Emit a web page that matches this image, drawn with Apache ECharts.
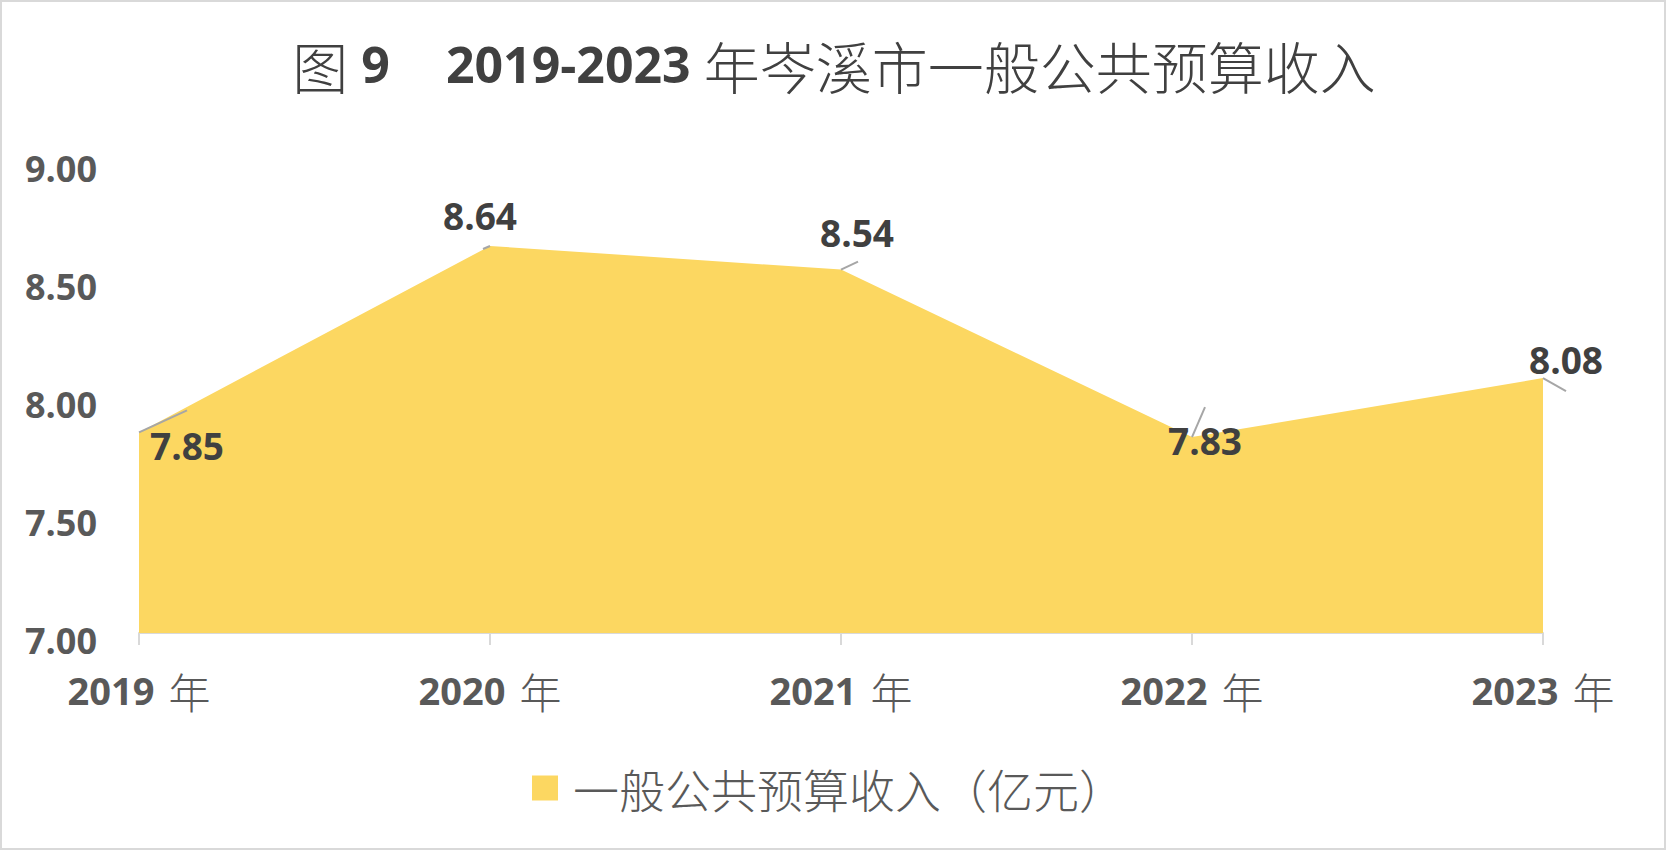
<!DOCTYPE html>
<html>
<head>
<meta charset="utf-8">
<script src="https://cdn.jsdelivr.net/npm/echarts@6/dist/echarts.min.js"></script>
<style>
html,body{margin:0;padding:0;background:#fff;}
#chart{width:1668px;height:852px;}
</style>
</head>
<body>
<div id="chart"></div>
<script>
// ---- data ----
const categories = ['2019 年', '2020 年', '2021 年', '2022 年', '2023 年'];
const revenue = [7.85, 8.64, 8.54, 7.83, 8.08];
const yTicks = [7.00, 7.50, 8.00, 8.50, 9.00];
const seriesName = '一般公共预算收入（亿元）';

// ---- label / leader styling (pixel offsets from each point) ----
const labelOffsets = [[48, 13], [-10, -30], [16, -37], [13, 3], [23, -19]];
const leaderVectors = [[48, -22], [-7, 3], [17, -8], [13, -30], [23, 13]];

const AREA = '#FCD761';
const NUM_FONT = '"Open Sans", "Liberation Sans", sans-serif';
const CJK_FONT = '"Noto Sans CJK SC", sans-serif';

const chart = echarts.init(document.getElementById('chart'), null, {renderer: 'svg'});

const option = {
  backgroundColor: '#ffffff',
  animation: false,
  title: {
    left: 'center',
    top: 34,
    padding: 0,
    text: '{c|图}{n| 9}{c|　}{n|2019-2023 }{c|年岑溪市一般公共预算收入}',
    textStyle: {
      rich: {
        c: {fontFamily: CJK_FONT, fontSize: 56, fontWeight: 300, color: '#404040', lineHeight: 60},
        n: {fontFamily: NUM_FONT, fontSize: 50, fontWeight: 'bold', color: '#404040', lineHeight: 60}
      }
    }
  },
  legend: {
    data: [seriesName],
    left: 527,
    top: 760,
    icon: 'rect',
    itemWidth: 26,
    itemHeight: 25,
    formatter: '{a|{name}}',
    textStyle: {
      rich: {
        a: {fontFamily: CJK_FONT, fontSize: 46, fontWeight: 300, color: '#595959', padding: [0, 0, 0, 10], lineHeight: 50}
      }
    }
  },
  grid: {left: 139, right: 125, top: 161, bottom: 219, containLabel: false},
  xAxis: {
    type: 'category',
    data: categories,
    boundaryGap: false,
    axisLine: {show: true, lineStyle: {color: '#d9d9d9', width: 2}},
    axisTick: {show: true, length: 12, lineStyle: {color: '#d9d9d9', width: 2}},
    splitLine: {show: false},
    axisLabel: {
      margin: 36,
      formatter: function (v) {
        const parts = v.split(' ');
        return '{n|' + parts[0] + '}{c|' + parts[1] + '}';
      },
      rich: {
        n: {fontFamily: NUM_FONT, fontSize: 38, fontWeight: 'bold', color: '#595959'},
        c: {fontFamily: CJK_FONT, fontSize: 42, fontWeight: 300, color: '#595959', padding: [0, 0, 0, 14]}
      }
    }
  },
  yAxis: {
    type: 'value',
    min: yTicks[0],
    max: yTicks[yTicks.length - 1],
    interval: yTicks[1] - yTicks[0],
    axisLine: {show: false},
    axisTick: {show: false},
    splitLine: {show: false},
    axisLabel: {
      margin: 42,
      formatter: function (v) { return '{a|' + v.toFixed(2) + '}'; },
      rich: {
        a: {
          fontFamily: NUM_FONT,
          fontSize: 36,
          fontWeight: 'bold',
          color: '#595959',
          padding: [14, 0, 0, 0]
        }
      }
    }
  },
  series: [
    {
      name: seriesName,
      type: 'line',
      data: revenue,
      symbol: 'none',
      silent: true,
      itemStyle: {color: AREA},
      lineStyle: {width: 0, color: AREA},
      areaStyle: {color: AREA, opacity: 1}
    },
    {
      type: 'custom',
      silent: true,
      z: 5,
      data: revenue.map(function (v, i) { return [i, v]; }),
      renderItem: function (params, api) {
        const i = params.dataIndex;
        const p = api.coord([api.value(0), api.value(1)]);
        const lv = leaderVectors[i];
        const lo = labelOffsets[i];
        return {
          type: 'group',
          children: [
            {
              type: 'line',
              shape: {x1: p[0], y1: p[1], x2: p[0] + lv[0], y2: p[1] + lv[1]},
              style: {stroke: '#a6a6a6', lineWidth: 2}
            },
            {
              type: 'text',
              style: {
                x: p[0] + lo[0],
                y: p[1] + lo[1],
                text: revenue[i].toFixed(2),
                align: 'center',
                verticalAlign: 'middle',
                font: 'bold 37px ' + NUM_FONT,
                fill: '#404040'
              }
            }
          ]
        };
      }
    }
  ],
  graphic: [
    {
      type: 'rect',
      silent: true,
      shape: {x: 1, y: 1, width: 1664, height: 848},
      style: {fill: 'none', stroke: '#d9d9d9', lineWidth: 2}
    }
  ]
};

chart.setOption(option);
</script>
</body>
</html>
